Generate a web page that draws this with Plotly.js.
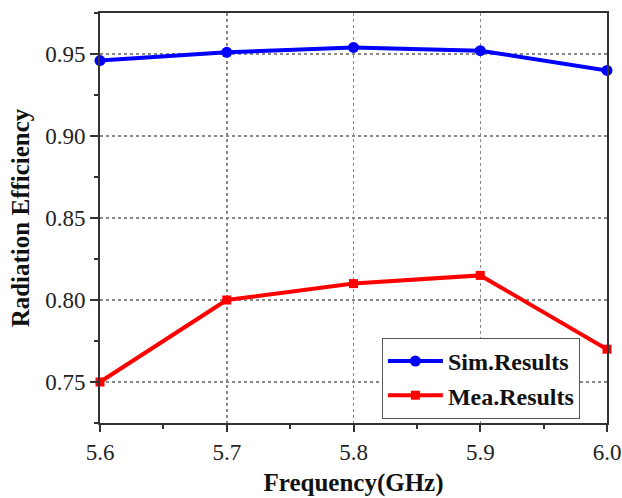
<!DOCTYPE html>
<html><head><meta charset="utf-8">
<script src="https://cdn.plot.ly/plotly-3.0.1.min.js"></script>
<style>body{margin:0;padding:0;background:#fff}</style>
</head><body>
<div id="chart" style="width:622px;height:498px"></div>
<script>
const frequency = [5.6, 5.7, 5.8, 5.9, 6.0];
const simResults = [0.946, 0.951, 0.954, 0.952, 0.940];
const meaResults = [0.750, 0.800, 0.810, 0.815, 0.770];
const seriesNames = ["Sim.Results", "Mea.Results"];
const xTicks = [5.6, 5.7, 5.8, 5.9, 6.0];
const xTickText = ["5.6", "5.7", "5.8", "5.9", "6.0"];
const yTicks = [0.75, 0.80, 0.85, 0.90, 0.95];
const yTickText = ["0.75", "0.80", "0.85", "0.90", "0.95"];

const traces = [
  {x: frequency, y: simResults, name: seriesNames[0], mode: "lines+markers",
   line: {color: "#0000ff", width: 4}, marker: {symbol: "circle", size: 11, color: "#0000ff"}, cliponaxis: false},
  {x: frequency, y: meaResults, name: seriesNames[1], mode: "lines+markers",
   line: {color: "#ff0000", width: 4}, marker: {symbol: "square", size: 9, color: "#ff0000"}, cliponaxis: false}
];
const fontFam = "Liberation Serif";
const tickFont = {family: fontFam, size: 23, color: "#222"};
const titleFont = {family: fontFam, size: 25, weight: "bold", color: "#111"};
const layout = {
  width: 622, height: 498,
  margin: {l: 100, r: 15, t: 13, b: 75},
  paper_bgcolor: "#fff", plot_bgcolor: "#fff",
  font: {family: fontFam, size: 23, color: "#222"},
  showlegend: true,
  legend: {x: 0.556, y: 0.01, xanchor: "left", yanchor: "bottom",
    bordercolor: "#555", borderwidth: 1, bgcolor: "#fff",
    font: {family: fontFam, size: 24, color: "#111", weight: "bold"},
    itemwidth: 55, tracegroupgap: 0},
  xaxis: {range: [5.6, 6.0], tickvals: xTicks, ticktext: xTickText, tickfont: tickFont,
    showline: true, linecolor: "#333", linewidth: 2, mirror: true,
    ticks: "outside", ticklen: 7, tickwidth: 2, tickcolor: "#333",
    minor: {dtick: 0.05, tick0: 5.6, ticks: "outside", ticklen: 4, tickwidth: 2, tickcolor: "#333", showgrid: false},
    showgrid: true, gridcolor: "#888", griddash: "dot", gridwidth: 1.5, zeroline: false,
    title: {text: "Frequency(GHz)", font: titleFont, standoff: 10}},
  yaxis: {range: [0.725, 0.975], tickvals: yTicks, ticktext: yTickText, tickfont: tickFont,
    showline: true, linecolor: "#333", linewidth: 2, mirror: true,
    ticks: "outside", ticklen: 8, tickwidth: 2, tickcolor: "#333",
    minor: {dtick: 0.025, tick0: 0.725, ticks: "outside", ticklen: 4, tickwidth: 2, tickcolor: "#333", showgrid: false},
    showgrid: true, gridcolor: "#888", griddash: "dot", gridwidth: 1.5, zeroline: false,
    title: {text: "Radiation Efficiency", font: titleFont, standoff: 8}}
};
Plotly.newPlot("chart", traces, layout, {displayModeBar: false, staticPlot: true});
</script>
</body></html>
